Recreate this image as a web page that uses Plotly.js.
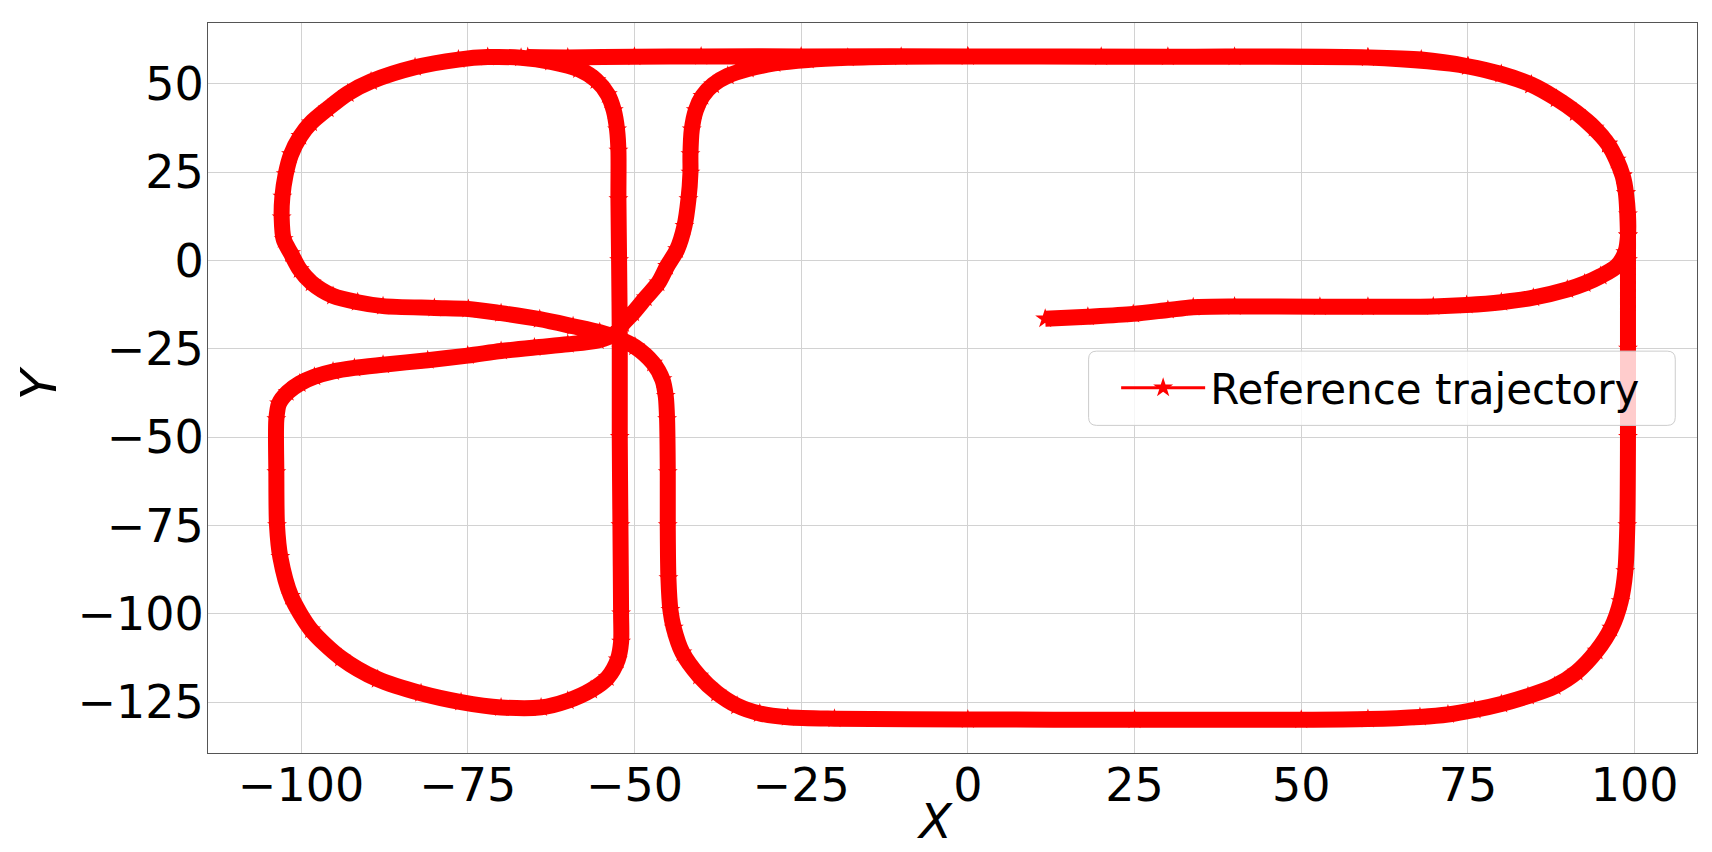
<!DOCTYPE html>
<html>
<head>
<meta charset="utf-8">
<script src="https://cdn.plot.ly/plotly-3.0.1.min.js"></script>
<style>html,body{margin:0;padding:0;background:#fff;}#chart{width:1712px;height:852px;}</style>
</head>
<body>
<div id="chart"></div>
<script>
// Reference trajectory, points, in travel order
const trajX = [
  11.6, 18, 24.8, 30, 33.8, 40, 52.8, 60, 69.8, 74.8, 80, 84.8, 89.9, 92.5, 94.9, 97.3, 98.6, 99, 99, 98.7,
  98.2, 97.3, 96, 94, 91.2, 88.3, 84.5, 80, 75, 68, 60, 40, 20, 0, -10, -18, -24, -29, -33, -36,
  -38.2, -39.8, -40.8, -41.4, -41.6, -41.6, -41.9, -42.5, -43.6, -45.1, -46.4, -48.3, -50.2, -51.7, -53, -55.5, -60, -65, -70, -75,
  -81, -87.7, -92, -95.2, -98, -100.2, -102, -103.3, -103.7, -103.7, -103.6, -103.1, -101.5, -98.5, -94, -88.5, -82, -76, -70, -64,
  -60, -56.5, -54, -52.5, -52, -52, -52.1, -52.2, -52.2, -52.3, -52.4, -52.4, -52.6, -53.1, -54, -55.7, -58.3, -62.5, -67, -72,
  -76.4, -82.9, -89.5, -93, -96, -98.5, -100.1, -101.5, -102.3, -102.8, -102.9, -102.6, -101.5, -100.2, -98.4, -95.2, -91.5, -87.7, -80, -74.9,
  -70, -64.2, -59.2, -55.2, -52.5, -49.9, -47.2, -45.8, -45.3, -45.1, -45, -45, -44.9, -44.6, -44.1, -42.8, -40.3, -37.6, -34.6, -31.2,
  -27, -20, 0, 25, 50, 60, 67.8, 72, 76, 80, 84, 88, 91.3, 94.3, 96.5, 97.9, 98.6, 98.9, 99, 99,
  99, 99, 98.7, 98.2, 96, 91.2, 84.5, 75, 60, 30, 0, -25, -40, -50, -60, -66
];
const trajY = [
  -16.5, -15.9, -15.1, -14, -13.2, -13, -13.1, -13.1, -13, -12.6, -11.8, -10.5, -8.2, -6.5, -4.4, -1.6, 2.3, 7, 13, 19,
  24, 28.5, 33, 37.5, 42, 45.8, 49.8, 52.8, 55, 56.9, 57.5, 57.7, 57.7, 57.8, 57.7, 57.4, 56.8, 55.8, 54.2, 52.3,
  49.8, 46.5, 42.5, 37, 30, 24.8, 17.3, 9.7, 3.1, -1.6, -6.3, -10.5, -14.8, -17.8, -20.8, -22.6, -23.7, -24.6, -25.6, -26.9,
  -28.2, -29.5, -30.4, -31.4, -32.9, -34.8, -37.3, -40.5, -45, -60, -75, -84, -95, -104.5, -112.5, -118.5, -122.5, -125, -126.5, -126.5,
  -124.6, -121.6, -118, -113, -108, -100, -75, -50, -22, 0, 17.3, 31, 37, 42.5, 47, 51, 54.1, 56.2, 57.4, 57.6,
  56.9, 54.7, 50.7, 47.3, 43, 39, 35.2, 30, 24.4, 18, 12.1, 6, 2, -2.5, -6.3, -10, -11.8, -12.9, -13.4, -13.7,
  -14.9, -16.6, -18.6, -20.3, -22, -24.4, -29, -33.7, -38.4, -45, -60, -75, -90, -99, -104, -111, -117.6, -122.4, -126, -128.2,
  -129.3, -129.7, -129.9, -130, -130, -129.8, -129.2, -128.5, -127.2, -125.5, -123.3, -120.5, -116.5, -110.5, -104, -96.5, -88, -75, -50, -25,
  0, 7, 19, 24, 33, 42, 49.8, 55, 57.5, 57.7, 57.8, 57.8, 57.8, 57.7, 57.5, 57.6
];
const seriesName = 'Reference trajectory';
const xTitle = 'X';
const yTitle = 'Y';
const xTicks = [-100, -75, -50, -25, 0, 25, 50, 75, 100];
const yTicks = [-125, -100, -75, -50, -25, 0, 25, 50];

const RED = '#ff0000';
const FONT = 'DejaVu Sans, sans-serif';

const traces = [
  {
    x: trajX, y: trajY, type: 'scatter', mode: 'lines',
    line: {color: RED, width: 16, shape: 'spline', smoothing: 0.8},
    showlegend: false, hoverinfo: 'skip'
  },
  {
    x: trajX, y: trajY, type: 'scatter', mode: 'lines+markers', name: seriesName,
    line: {color: RED, width: 3, shape: 'spline', smoothing: 0.8},
    marker: {symbol: 'star', size: 15, color: RED, line: {width: 0}}
  }
];

const minusFmt = v => (v < 0 ? '\u2212' + Math.abs(v) : String(v));

// legend frame (rounded box, drawn in paper units)
const bx0 = 0.5914, bx1 = 0.9854, by0 = 0.4488, by1 = 0.5505, rx = 0.0054, ry = 0.011;
const framePath =
  `M ${bx0 + rx},${by1} L ${bx1 - rx},${by1} Q ${bx1},${by1} ${bx1},${by1 - ry} ` +
  `L ${bx1},${by0 + ry} Q ${bx1},${by0} ${bx1 - rx},${by0} L ${bx0 + rx},${by0} ` +
  `Q ${bx0},${by0} ${bx0},${by0 + ry} L ${bx0},${by1 - ry} Q ${bx0},${by1} ${bx0 + rx},${by1} Z`;

const axisCommon = {
  tickmode: 'array',
  tickfont: {family: FONT, size: 46, color: '#000'},
  ticks: 'outside', ticklen: 1, tickcolor: 'rgba(0,0,0,0)',
  showgrid: true, gridcolor: '#d2d2d2', gridwidth: 1,
  zeroline: false, showline: true, mirror: true, linecolor: '#555555', linewidth: 1,
  automargin: false
};

const layout = {
  width: 1712, height: 852,
  margin: {l: 208, r: 15, t: 23, b: 99},
  paper_bgcolor: '#ffffff', plot_bgcolor: '#ffffff',
  font: {family: FONT, color: '#000000'},
  showlegend: true,
  xaxis: Object.assign({}, axisCommon, {
    range: [-113.95, 109.35], tickvals: xTicks, ticktext: xTicks.map(minusFmt),
    ticklabelstandoff: -9
  }),
  yaxis: Object.assign({}, axisCommon, {
    range: [-139.4, 67.25], tickvals: yTicks, ticktext: yTicks.map(minusFmt),
    ticklabelstandoff: -7
  }),
  shapes: [{
    type: 'path', xref: 'paper', yref: 'paper', path: framePath, layer: 'above',
    fillcolor: 'rgba(255,255,255,0.8)', line: {color: '#cccccc', width: 1}
  }],
  annotations: [
    {text: xTitle, xref: 'paper', yref: 'paper', x: 0.4882, y: -0.0935, xanchor: 'center', yanchor: 'middle',
     showarrow: false, font: {family: FONT, size: 48, style: 'italic', color: '#000'}},
    {text: yTitle, xref: 'paper', yref: 'paper', x: -0.1137, y: 0.506, xanchor: 'center', yanchor: 'middle',
     textangle: -90, showarrow: false, font: {family: FONT, size: 50, style: 'italic', color: '#000'}}
  ],
  legend: {
    x: 0.6099, xanchor: 'left', y: 0.5, yanchor: 'middle',
    bgcolor: 'rgba(0,0,0,0)', borderwidth: 0,
    font: {family: FONT, size: 42, color: '#000'},
    itemwidth: 84
  }
};

Plotly.newPlot('chart', traces, layout, {staticPlot: true, displayModeBar: false});
</script>
</body>
</html>
